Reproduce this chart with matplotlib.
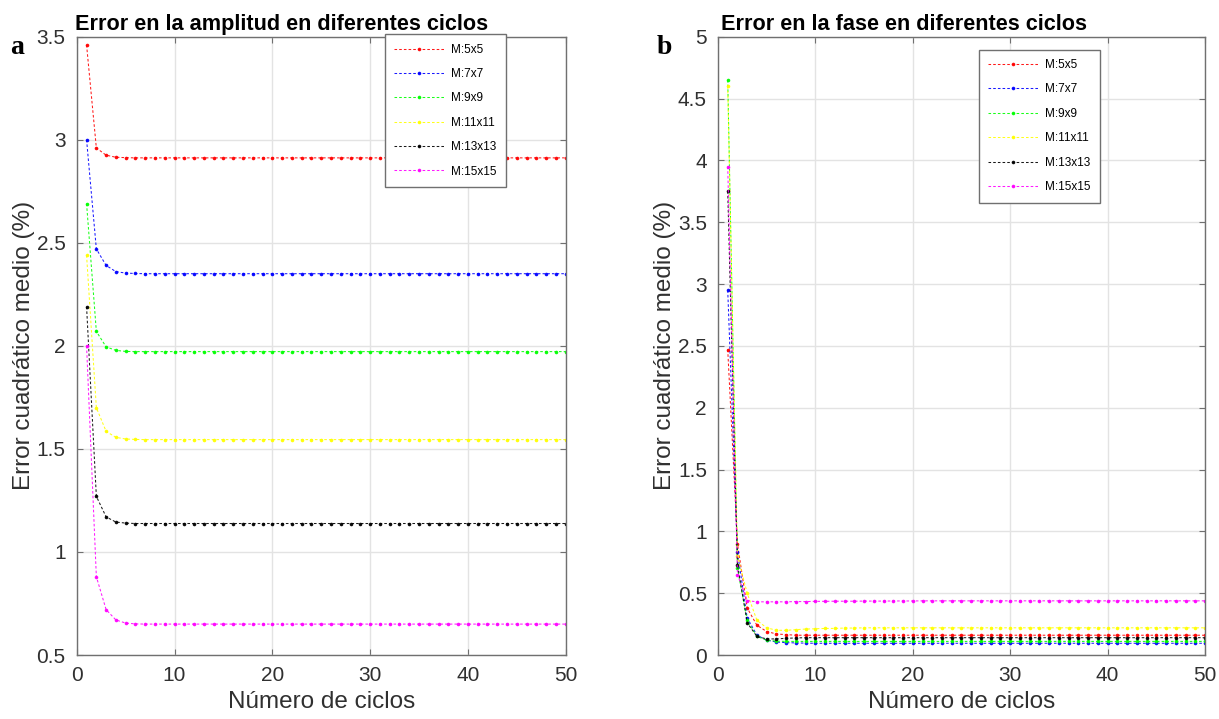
import numpy as np
import matplotlib
matplotlib.use("Agg")
import matplotlib.pyplot as plt

plt.rcParams['font.family'] = ['Liberation Sans', 'DejaVu Sans']

# numero de ciclos
ciclos = list(range(1, 51))
labels = ['M:5x5', 'M:7x7', 'M:9x9', 'M:11x11', 'M:13x13', 'M:15x15']
colores = ['red', 'blue', '#00ff00', 'yellow', 'black', 'magenta']

# error en la amplitud (%)
amp_5x5 = [3.46, 2.96, 2.925, 2.915, 2.913, 2.912, 2.912, 2.912, 2.912, 2.912,
           2.912, 2.912, 2.912, 2.912, 2.912, 2.912, 2.912, 2.912, 2.912, 2.912,
           2.912, 2.912, 2.912, 2.912, 2.912, 2.912, 2.912, 2.912, 2.912, 2.912,
           2.912, 2.912, 2.912, 2.912, 2.912, 2.912, 2.912, 2.912, 2.912, 2.912,
           2.912, 2.912, 2.912, 2.912, 2.912, 2.912, 2.912, 2.912, 2.912, 2.912]
amp_7x7 = [3.00, 2.47, 2.39, 2.36, 2.353, 2.351, 2.35, 2.35, 2.35, 2.35,
           2.35, 2.35, 2.35, 2.35, 2.35, 2.35, 2.35, 2.35, 2.35, 2.35,
           2.35, 2.35, 2.35, 2.35, 2.35, 2.35, 2.35, 2.35, 2.35, 2.35,
           2.35, 2.35, 2.35, 2.35, 2.35, 2.35, 2.35, 2.35, 2.35, 2.35,
           2.35, 2.35, 2.35, 2.35, 2.35, 2.35, 2.35, 2.35, 2.35, 2.35]
amp_9x9 = [2.69, 2.07, 1.995, 1.978, 1.973, 1.972, 1.972, 1.972, 1.972, 1.972,
           1.972, 1.972, 1.972, 1.972, 1.972, 1.972, 1.972, 1.972, 1.972, 1.972,
           1.972, 1.972, 1.972, 1.972, 1.972, 1.972, 1.972, 1.972, 1.972, 1.972,
           1.972, 1.972, 1.972, 1.972, 1.972, 1.972, 1.972, 1.972, 1.972, 1.972,
           1.972, 1.972, 1.972, 1.972, 1.972, 1.972, 1.972, 1.972, 1.972, 1.972]
amp_11x11 = [2.44, 1.70, 1.585, 1.556, 1.548, 1.546, 1.545, 1.545, 1.545, 1.545,
             1.545, 1.545, 1.545, 1.545, 1.545, 1.545, 1.545, 1.545, 1.545, 1.545,
             1.545, 1.545, 1.545, 1.545, 1.545, 1.545, 1.545, 1.545, 1.545, 1.545,
             1.545, 1.545, 1.545, 1.545, 1.545, 1.545, 1.545, 1.545, 1.545, 1.545,
             1.545, 1.545, 1.545, 1.545, 1.545, 1.545, 1.545, 1.545, 1.545, 1.545]
amp_13x13 = [2.19, 1.27, 1.17, 1.145, 1.140, 1.138, 1.138, 1.138, 1.138, 1.138,
             1.138, 1.138, 1.138, 1.138, 1.138, 1.138, 1.138, 1.138, 1.138, 1.138,
             1.138, 1.138, 1.138, 1.138, 1.138, 1.138, 1.138, 1.138, 1.138, 1.138,
             1.138, 1.138, 1.138, 1.138, 1.138, 1.138, 1.138, 1.138, 1.138, 1.138,
             1.138, 1.138, 1.138, 1.138, 1.138, 1.138, 1.138, 1.138, 1.138, 1.138]
amp_15x15 = [2.00, 0.88, 0.72, 0.67, 0.655, 0.651, 0.65, 0.65, 0.65, 0.65,
             0.65, 0.65, 0.65, 0.65, 0.65, 0.65, 0.65, 0.65, 0.65, 0.65,
             0.65, 0.65, 0.65, 0.65, 0.65, 0.65, 0.65, 0.65, 0.65, 0.65,
             0.65, 0.65, 0.65, 0.65, 0.65, 0.65, 0.65, 0.65, 0.65, 0.65,
             0.65, 0.65, 0.65, 0.65, 0.65, 0.65, 0.65, 0.65, 0.65, 0.65]

# error en la fase (%)
fase_5x5 = [2.47, 0.90, 0.38, 0.24, 0.19, 0.17, 0.165, 0.16, 0.16, 0.16,
            0.16, 0.16, 0.16, 0.16, 0.16, 0.16, 0.16, 0.16, 0.16, 0.16,
            0.16, 0.16, 0.16, 0.16, 0.16, 0.16, 0.16, 0.16, 0.16, 0.16,
            0.16, 0.16, 0.16, 0.16, 0.16, 0.16, 0.16, 0.16, 0.16, 0.16,
            0.16, 0.16, 0.16, 0.16, 0.16, 0.16, 0.16, 0.16, 0.16, 0.16]
fase_7x7 = [2.95, 0.83, 0.30, 0.16, 0.12, 0.105, 0.10, 0.098, 0.096, 0.095,
            0.095, 0.095, 0.095, 0.095, 0.095, 0.095, 0.095, 0.095, 0.095, 0.095,
            0.095, 0.095, 0.095, 0.095, 0.095, 0.095, 0.095, 0.095, 0.095, 0.095,
            0.095, 0.095, 0.095, 0.095, 0.095, 0.095, 0.095, 0.095, 0.095, 0.095,
            0.095, 0.095, 0.095, 0.095, 0.095, 0.095, 0.095, 0.095, 0.095, 0.095]
fase_9x9 = [4.65, 0.70, 0.28, 0.15, 0.12, 0.112, 0.11, 0.11, 0.11, 0.11,
            0.11, 0.11, 0.11, 0.11, 0.11, 0.11, 0.11, 0.11, 0.11, 0.11,
            0.11, 0.11, 0.11, 0.11, 0.11, 0.11, 0.11, 0.11, 0.11, 0.11,
            0.11, 0.11, 0.11, 0.11, 0.11, 0.11, 0.11, 0.11, 0.11, 0.11,
            0.11, 0.11, 0.11, 0.11, 0.11, 0.11, 0.11, 0.11, 0.11, 0.11]
fase_11x11 = [4.60, 0.80, 0.50, 0.28, 0.22, 0.20, 0.20, 0.205, 0.21, 0.212,
              0.215, 0.215, 0.218, 0.218, 0.22, 0.22, 0.22, 0.22, 0.22, 0.22,
              0.22, 0.22, 0.22, 0.22, 0.22, 0.22, 0.22, 0.22, 0.22, 0.22,
              0.22, 0.22, 0.22, 0.22, 0.22, 0.22, 0.22, 0.22, 0.22, 0.22,
              0.22, 0.22, 0.22, 0.22, 0.22, 0.22, 0.22, 0.22, 0.22, 0.22]
fase_13x13 = [3.75, 0.73, 0.26, 0.15, 0.13, 0.13, 0.135, 0.138, 0.14, 0.14,
              0.14, 0.14, 0.14, 0.14, 0.14, 0.14, 0.14, 0.14, 0.14, 0.14,
              0.14, 0.14, 0.14, 0.14, 0.14, 0.14, 0.14, 0.14, 0.14, 0.14,
              0.14, 0.14, 0.14, 0.14, 0.14, 0.14, 0.14, 0.14, 0.14, 0.14,
              0.14, 0.14, 0.14, 0.14, 0.14, 0.14, 0.14, 0.14, 0.14, 0.14]
fase_15x15 = [3.95, 0.65, 0.44, 0.43, 0.43, 0.43, 0.43, 0.432, 0.432, 0.434,
              0.434, 0.435, 0.435, 0.435, 0.436, 0.436, 0.436, 0.437, 0.437, 0.437,
              0.438, 0.438, 0.438, 0.438, 0.438, 0.438, 0.438, 0.438, 0.438, 0.438,
              0.438, 0.438, 0.438, 0.438, 0.438, 0.438, 0.438, 0.438, 0.438, 0.438,
              0.438, 0.438, 0.438, 0.438, 0.438, 0.438, 0.438, 0.438, 0.438, 0.438]

amplitud = [amp_5x5, amp_7x7, amp_9x9, amp_11x11, amp_13x13, amp_15x15]
fase = [fase_5x5, fase_7x7, fase_9x9, fase_11x11, fase_13x13, fase_15x15]

fig = plt.figure(figsize=(12.19, 7.19), dpi=100)
ax1 = fig.add_axes([0.063, 0.089, 0.401, 0.860])
ax2 = fig.add_axes([0.589, 0.089, 0.3995, 0.860])

gris = '#303030'


def estilo(ax, ylim, yticks, ytl):
    ax.set_xlim(0, 50)
    ax.set_ylim(*ylim)
    ax.set_xticks([0, 10, 20, 30, 40, 50])
    ax.set_yticks(yticks)
    ax.set_yticklabels(ytl)
    ax.grid(True, color='#e3e3e3', linewidth=1)
    ax.set_axisbelow(True)
    ax.tick_params(direction='in', top=True, right=True, length=4,
                   labelsize=15, colors='#707070', labelcolor=gris, pad=8)
    for s in ax.spines.values():
        s.set_color('#707070')
        s.set_linewidth(1)
    ax.set_xlabel('Número de ciclos', fontsize=17.5, color=gris, labelpad=4)
    ax.set_ylabel('Error cuadrático medio (%)', fontsize=17.5, color=gris,
                  labelpad=1)


for serie, c, lab in zip(amplitud, colores, labels):
    ax1.plot(ciclos, serie, linestyle=(0, (2.5, 2)), color=c, marker='.',
             markersize=3.2, linewidth=0.75, alpha=0.9, label=lab)
for serie, c, lab in zip(fase, colores, labels):
    ax2.plot(ciclos, serie, linestyle=(0, (2.5, 2)), color=c, marker='.',
             markersize=3.2, linewidth=0.75, alpha=0.9, label=lab)

estilo(ax1, (0.5, 3.5), [0.5, 1, 1.5, 2, 2.5, 3, 3.5],
       ['0.5', '1', '1.5', '2', '2.5', '3', '3.5'])
estilo(ax2, (0, 5), [0, 0.5, 1, 1.5, 2, 2.5, 3, 3.5, 4, 4.5, 5],
       ['0', '0.5', '1', '1.5', '2', '2.5', '3', '3.5', '4', '4.5', '5'])

# titulos algo desplazados a la izquierda, como en la figura original
ax1.set_title('Error en la amplitud en diferentes ciclos', fontsize=15.6,
              fontweight='bold', x=0.418, y=1.0, pad=5)
ax2.set_title('Error en la fase en diferentes ciclos', fontsize=15.6,
              fontweight='bold', x=0.382, y=1.0, pad=5)

for ax, anchor in [(ax1, (0.63, 1.004)), (ax2, (0.536, 0.979))]:
    leg = ax.legend(loc='upper left', bbox_to_anchor=anchor, fontsize=8.5,
                    fancybox=False, framealpha=1, borderpad=0.8,
                    labelspacing=1.05, handlelength=4.2, handletextpad=0.6,
                    borderaxespad=0)
    leg.get_frame().set_edgecolor('#707070')
    leg.get_frame().set_linewidth(1)

fig.text(0.008, 0.925, 'a', fontsize=20, fontweight='bold',
         family=['Liberation Serif', 'DejaVu Serif'])
fig.text(0.539, 0.925, 'b', fontsize=20, fontweight='bold',
         family=['Liberation Serif', 'DejaVu Serif'])

fig.savefig('out.png', dpi=100)
